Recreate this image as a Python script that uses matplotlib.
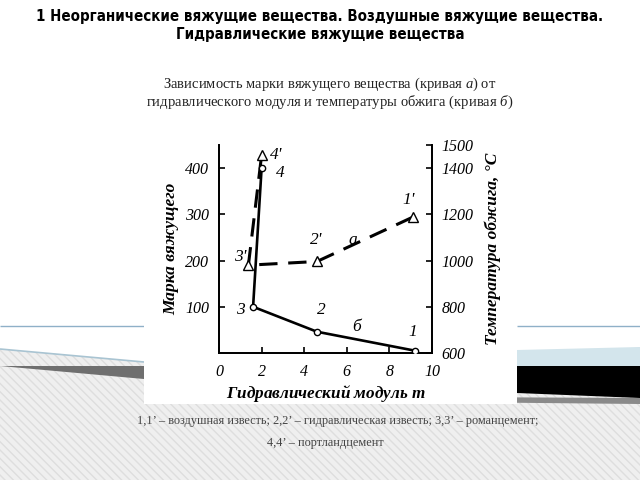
import matplotlib.pyplot as plt
from matplotlib.patches import Polygon

plt.rcParams["mathtext.fontset"] = "custom"
plt.rcParams["mathtext.rm"] = "Liberation Serif"
plt.rcParams["mathtext.it"] = "Liberation Serif:italic"
plt.rcParams["mathtext.bf"] = "Liberation Serif:italic:bold"

# curve a: binder grade (left axis), triangles
m_a = [9.1, 4.6, 1.38, 2.0]
grade_a = [294, 198, 190, 428]
labels_a = ["1'", "2'", "3'", "4'"]

# curve b: firing temperature (right axis), circles
m_b = [9.2, 4.6, 1.6, 2.0]
temp_b = [610, 692, 800, 1400]
labels_b = ["1", "2", "3", "4"]

W, H = 640, 480


def fx(x):
    return x / W


def fy(y):
    return 1 - y / H


def poly(pts, **kw):
    p = Polygon([(fx(x), fy(y)) for x, y in pts], closed=True,
                transform=fig.transFigure, zorder=-5, **kw)
    fig.patches.append(p)


fig = plt.figure(figsize=(6.4, 4.8), dpi=100)
fig.patch.set_facecolor("white")

# slide decoration
poly([(0, 349), (144, 362), (517, 362), (640, 347), (640, 480), (0, 480)],
     facecolor="#efefef", edgecolor="#dedede", hatch="\\\\\\\\", lw=0)
poly([(0, 349), (144, 362)], fill=False, edgecolor="#a9c4d2", lw=1.2)
poly([(0, 366), (144, 366), (144, 379)], facecolor="#6f6f6f", lw=0)
poly([(517, 350), (640, 347), (640, 366), (517, 366)], facecolor="#d3e5ec", lw=0)
poly([(517, 366), (640, 366), (640, 398), (517, 393)], facecolor="black", lw=0)
poly([(440, 397), (640, 398), (640, 404), (440, 402)], facecolor="#8a8a8a", lw=0)
poly([(0, 326), (144, 326)], fill=False, edgecolor="#8fb0c8", lw=1)
poly([(517, 326), (640, 326)], fill=False, edgecolor="#8fb0c8", lw=1)
poly([(144, 118), (517, 118), (517, 404), (144, 404)], facecolor="white", lw=0)

serif = ["Liberation Serif", "DejaVu Serif"]

fig.text(0.5, fy(16), "1 Неорганические вяжущие вещества. Воздушные вяжущие вещества.",
         ha="center", va="center", fontsize=10.8, fontweight="bold",
         family="DejaVu Sans", fontstretch="condensed")
fig.text(0.5, fy(34), "Гидравлические вяжущие вещества",
         ha="center", va="center", fontsize=10.8, fontweight="bold",
         family="DejaVu Sans", fontstretch="condensed")
fig.text(fx(330), fy(84), "Зависимость марки вяжущего вещества (кривая $\\it{а}$) от",
         ha="center", va="center", fontsize=10.5, family=serif, color="#222222")
fig.text(fx(330), fy(102), "гидравлического модуля и температуры обжига (кривая $\\it{б}$)",
         ha="center", va="center", fontsize=10.5, family=serif, color="#222222")
fig.text(fx(338), fy(421),
         "1,1’ – воздушная известь; 2,2’ – гидравлическая известь; 3,3’ – романцемент;",
         ha="center", va="center", fontsize=8.8, family=serif, color="#444444")
fig.text(fx(325), fy(443), "4,4’ – портландцемент",
         ha="center", va="center", fontsize=8.8, family=serif, color="#444444")

ax = fig.add_axes([fx(219), fy(353), fx(432) - fx(219), (353 - 145) / H])
ax.set_facecolor("none")
ax.set_xlim(0, 10)
ax.set_ylim(0, 450)
ax.spines["top"].set_visible(False)
for s in ax.spines.values():
    s.set_linewidth(1.3)
ax.set_xticks([0, 2, 4, 6, 8, 10])
ax.set_yticks([100, 200, 300, 400])
ax.tick_params(direction="in", length=4, width=1.2, labelsize=11.5)
ax.tick_params(axis="x", pad=8)
ax.tick_params(axis="y", pad=7)
for t in ax.get_xticklabels() + ax.get_yticklabels():
    t.set_fontstyle("italic")
    t.set_family(serif)
ax.set_xlabel("Гидравлический модуль $\\mathbf{m}$", fontsize=12.3, style="italic",
              fontweight="bold", family=serif, labelpad=2)
ax.set_ylabel("Марка вяжущего", fontsize=12.5, style="italic",
              fontweight="bold", family=serif, labelpad=4)

ax2 = ax.twinx()
ax2.set_ylim(600, 1500)
ax2.spines["top"].set_visible(False)
for s in ax2.spines.values():
    s.set_linewidth(1.3)
ax2.set_yticks([600, 800, 1000, 1200, 1400, 1500])
ax2.tick_params(direction="in", length=4, width=1.2, labelsize=11.5, pad=7)
for t in ax2.get_yticklabels():
    t.set_fontstyle("italic")
    t.set_family(serif)
ax2.set_ylabel("Температура обжига, °С", fontsize=12.5, style="italic",
               fontweight="bold", family=serif, labelpad=8)

ax.plot(m_a, grade_a, color="black", lw=2.2, dashes=(6, 3.5), marker="^",
        markersize=6.5, markerfacecolor="white", markeredgecolor="black",
        markeredgewidth=1, zorder=3)
ax2.plot(m_b, temp_b, color="black", lw=1.9, marker="o", markersize=4.5,
         markerfacecolor="white", markeredgecolor="black", markeredgewidth=1,
         zorder=3)

lab_a_pos = [(8.9, 331), (4.58, 244), (0.99, 208), (2.7, 428)]
for (x, y), s in zip(lab_a_pos, labels_a):
    ax.text(x, y, s, fontsize=12.5, style="italic", family=serif, ha="center", va="center")
lab_b_pos = [(9.1, 46), (4.8, 93), (0.99, 93), (2.86, 389)]
for (x, y), s in zip(lab_b_pos, labels_b):
    ax.text(x, y, s, fontsize=12.5, style="italic", family=serif, ha="center", va="center")
ax.text(6.3, 244, "а", fontsize=12.5, style="italic", family=serif, ha="center", va="center")
ax.text(6.45, 57, "б", fontsize=12.5, style="italic", family=serif, ha="center", va="center")

fig.savefig("out.png", dpi=100)
